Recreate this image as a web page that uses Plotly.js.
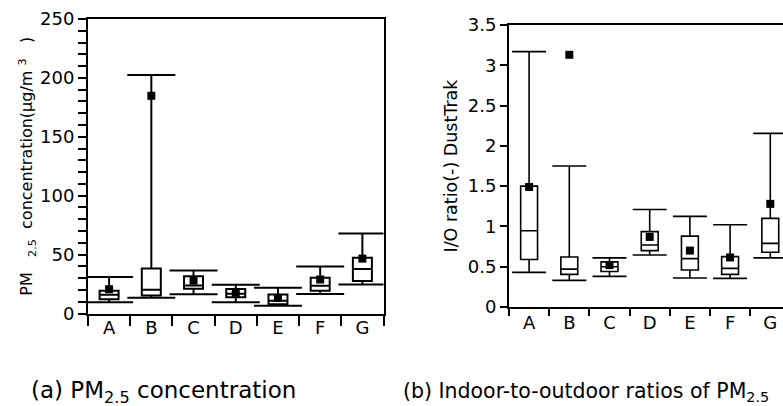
<!DOCTYPE html>
<html><head><meta charset="utf-8">
<script src="https://cdn.plot.ly/plotly-3.0.1.min.js"></script>
<style>html,body{margin:0;padding:0;overflow:hidden;background:#fff}#chart{width:800px;height:406px}</style>
</head><body><div id="chart"></div>
<script>
// ---- data ----
const categories = ['A','B','C','D','E','F','G'];

// (a) PM2.5 concentration (µg/m3)
const pmLower  = [9.6, 13.3, 16.3, 9.5, 6.5, 16.6, 24.6];
const pmQ1     = [12.2, 15.3, 21.0, 13.8, 7.8, 19.4, 27.6];
const pmMedian = [15.9, 20.1, 23.8, 16.8, 10.8, 23.5, 37.8];
const pmQ3     = [19.4, 38.2, 31.6, 20.8, 16.2, 30.3, 47.3];
const pmUpper  = [30.9, 202.5, 36.5, 24.4, 21.8, 39.8, 67.9];
const pmMean   = [20.6, 184.8, 27.9, 17.6, 13.2, 28.9, 46.6];

// (b) I/O ratio (-) DustTrak
const ioLower  = [0.43, 0.33, 0.38, 0.645, 0.36, 0.355, 0.61];
const ioQ1     = [0.59, 0.405, 0.44, 0.70, 0.46, 0.405, 0.68];
const ioMedian = [0.947, 0.47, 0.50, 0.77, 0.60, 0.48, 0.79];
const ioQ3     = [1.50, 0.62, 0.56, 0.935, 0.88, 0.625, 1.10];
const ioUpper  = [3.17, 1.75, 0.61, 1.21, 1.125, 1.02, 2.155];
const ioMean   = [1.49, 3.13, 0.52, 0.87, 0.70, 0.615, 1.28];

const pmTicks = [0, 50, 100, 150, 200, 250];
const ioTicks = [0, 0.5, 1, 1.5, 2, 2.5, 3, 3.5];

// ---- helpers ----
const W = 800, H = 406;
const px = x => x / W;
const py = y => (H - y) / H;
const diff = (a, b) => a.map((v, i) => v - b[i]);
const FONT = 'DejaVu Sans, Arial, sans-serif';

function whiskers(lower, med, upper, xa, ya, capHalf, thick) {
  return {
    type: 'scatter', mode: 'markers', x: categories, y: med,
    xaxis: xa, yaxis: ya, cliponaxis: false, hoverinfo: 'skip', showlegend: false,
    marker: {size: 1, opacity: 0},
    error_y: {type: 'data', symmetric: false, array: diff(upper, med), arrayminus: diff(med, lower),
              width: capHalf, thickness: thick, color: '#000'}
  };
}
function boxes(q1, med, q3, xa, ya, w, lw) {
  return {
    type: 'box', x: categories, q1: q1, median: med, q3: q3, lowerfence: q1, upperfence: q3,
    xaxis: xa, yaxis: ya, width: w, whiskerwidth: 0, boxpoints: false,
    line: {color: '#000', width: lw}, fillcolor: '#fff', hoverinfo: 'skip', showlegend: false
  };
}
function means(m, xa, ya) {
  return {
    type: 'scatter', mode: 'markers', x: categories, y: m, xaxis: xa, yaxis: ya,
    cliponaxis: false, showlegend: false,
    marker: {symbol: 'square', size: 8, color: '#000'}
  };
}

const data = [
  whiskers(pmLower, pmMedian, pmUpper, 'x', 'y', 24, 2),
  whiskers(ioLower, ioMedian, ioUpper, 'x2', 'y2', 17, 1.6),
  boxes(pmQ1, pmMedian, pmQ3, 'x3', 'y3', 0.45, 2),
  means(pmMean, 'x3', 'y3'),
  boxes(ioQ1, ioMedian, ioQ3, 'x4', 'y4', 0.42, 1.6),
  means(ioMean, 'x4', 'y4')
];

const xCommon = {
  type: 'category', categoryarray: categories, range: [-0.5, 6.5], tickson: 'boundaries',
  ticks: 'outside', tickcolor: '#000', showline: true, linecolor: '#000', linewidth: 2,
  mirror: true, showgrid: false, zeroline: false, fixedrange: true,
  tickfont: {family: FONT, size: 18, color: '#000'}
};
const yCommon = {
  ticks: 'outside', tickcolor: '#000', ticklen: 8, tickwidth: 2, showline: true,
  linecolor: '#000', linewidth: 2, mirror: true, showgrid: false, zeroline: false,
  fixedrange: true, tickfont: {family: FONT, size: 18, color: '#000'}
};

const layout = {
  width: W, height: H, margin: {l: 0, r: 0, t: 0, b: 0},
  paper_bgcolor: '#fff', plot_bgcolor: '#fff', showlegend: false,
  xaxis: Object.assign({}, xCommon, {domain: [px(88), px(383.5)], anchor: 'y', ticklen: 10, tickwidth: 2, ticklabelstandoff: -3}),
  yaxis: Object.assign({}, yCommon, {
    domain: [py(313.5), py(19)], anchor: 'x', range: [0, 250], tickvals: pmTicks,
    minor: {dtick: 10, ticks: 'outside', ticklen: 8, tickwidth: 2, tickcolor: '#000', showgrid: false},
    title: {text: 'PM\u00a0\u00a0\u00a0<sub>2.5</sub>\u00a0\u00a0concentration(\u00b5g/m\u00a0<sup>3</sup>\u00a0\u00a0\u00a0)',
            font: {family: FONT, size: 16, color: '#000'}, standoff: 3}
  }),
  xaxis2: Object.assign({}, xCommon, {domain: [px(509), px(790.4)], anchor: 'y2', ticklen: 7, tickwidth: 2, ticklabelstandoff: -2}),
  yaxis2: Object.assign({}, yCommon, {
    domain: [py(307), py(25)], anchor: 'x2', range: [0, 3.5], tickvals: ioTicks, ticklen: 7,
    title: {text: 'I/O ratio(-) DustTrak', font: {family: FONT, size: 17.5, color: '#000'}, standoff: 6}
  }),
  xaxis3: {overlaying: 'x', anchor: 'y3', type: 'category', categoryarray: categories, range: [-0.5, 6.5], visible: false, fixedrange: true},
  yaxis3: {overlaying: 'y', anchor: 'x3', range: [0, 250], visible: false, fixedrange: true},
  xaxis4: {overlaying: 'x2', anchor: 'y4', type: 'category', categoryarray: categories, range: [-0.5, 6.5], visible: false, fixedrange: true},
  yaxis4: {overlaying: 'y2', anchor: 'x4', range: [0, 3.5], visible: false, fixedrange: true},
  annotations: [
    {xref: 'paper', yref: 'paper', x: px(29), y: py(392), xanchor: 'left', yanchor: 'middle', showarrow: false,
     text: '(a) PM<sub>2.5</sub> concentration', font: {family: FONT, size: 23, color: '#000'}},
    {xref: 'paper', yref: 'paper', x: px(401), y: py(392), xanchor: 'left', yanchor: 'middle', showarrow: false,
     text: '(b) Indoor-to-outdoor ratios of PM<sub>2.5</sub>', font: {family: FONT, size: 20.5, color: '#000'}}
  ]
};

Plotly.newPlot('chart', data, layout, {staticPlot: true, displayModeBar: false});
</script>
</body></html>
